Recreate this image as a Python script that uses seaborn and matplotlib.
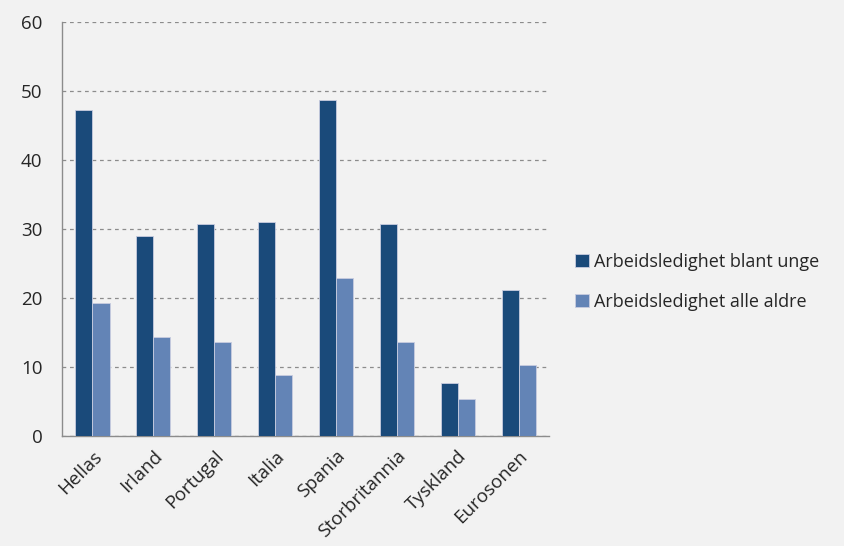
import matplotlib
matplotlib.use("Agg")
import matplotlib.pyplot as plt
import seaborn as sns
import pandas as pd
import numpy as np

countries = ["Hellas", "Irland", "Portugal", "Italia", "Spania", "Storbritannia", "Tyskland", "Eurosonen"]
unge = [47.2, 29.0, 30.7, 31.0, 48.7, 30.7, 7.7, 21.2]
alle = [19.2, 14.4, 13.6, 8.8, 22.9, 13.6, 5.4, 10.3]
series = ["Arbeidsledighet blant unge", "Arbeidsledighet alle aldre"]
colors = ["#1A4A7A", "#6384B6"]

df = pd.DataFrame({
    "land": countries * 2,
    "verdi": unge + alle,
    "serie": [series[0]] * len(countries) + [series[1]] * len(countries),
})

sns.set_theme(style="white")
plt.rcParams["font.family"] = ["Open Sans", "DejaVu Sans"]
bg = "#F2F2F2"
fig = plt.figure(figsize=(8.44, 5.46), dpi=100, facecolor=bg)
ax = fig.add_axes([0.0735, 0.2015, 0.577, 0.7585], facecolor=bg)

sns.barplot(data=df, x="land", y="verdi", hue="serie", palette=colors, saturation=1,
            width=0.56, ax=ax, edgecolor="#C8CCE0", linewidth=0.6, zorder=3)

ax.set_ylim(0, 60)
ax.set_yticks(np.arange(0, 61, 10))
ax.set_xlim(-0.5, len(countries) - 0.5)
ax.yaxis.grid(True, linestyle=(0, (3, 3)), color="#8C8C8C", linewidth=0.9, zorder=0)
ax.set_axisbelow(True)
for s in ["top", "right"]:
    ax.spines[s].set_visible(False)
for s in ["left", "bottom"]:
    ax.spines[s].set_color("#8C8C8C")
    ax.spines[s].set_linewidth(1.0)
ax.set_xlabel("")
ax.set_ylabel("")

# x ticks at category boundaries
ax.set_xticks(np.arange(len(countries)))
ax.set_xticklabels(countries, rotation=45, ha="right", rotation_mode="anchor", fontsize=13.5)
ax.set_xticks(np.arange(-0.5, len(countries), 1), minor=True)
ax.tick_params(axis="x", which="major", length=0, pad=8)
ax.tick_params(axis="x", which="minor", length=6, color="#8C8C8C", width=1)
ax.tick_params(axis="y", length=6, color="#8C8C8C", width=1, labelsize=13.5, pad=8)

leg = ax.legend(loc="center left", bbox_to_anchor=(1.02, 0.372), frameon=False,
                fontsize=13, handlelength=0.75, handleheight=0.75, handletextpad=0.3,
                labelspacing=1.2)

fig.savefig("out.png", dpi=100, facecolor=bg)
